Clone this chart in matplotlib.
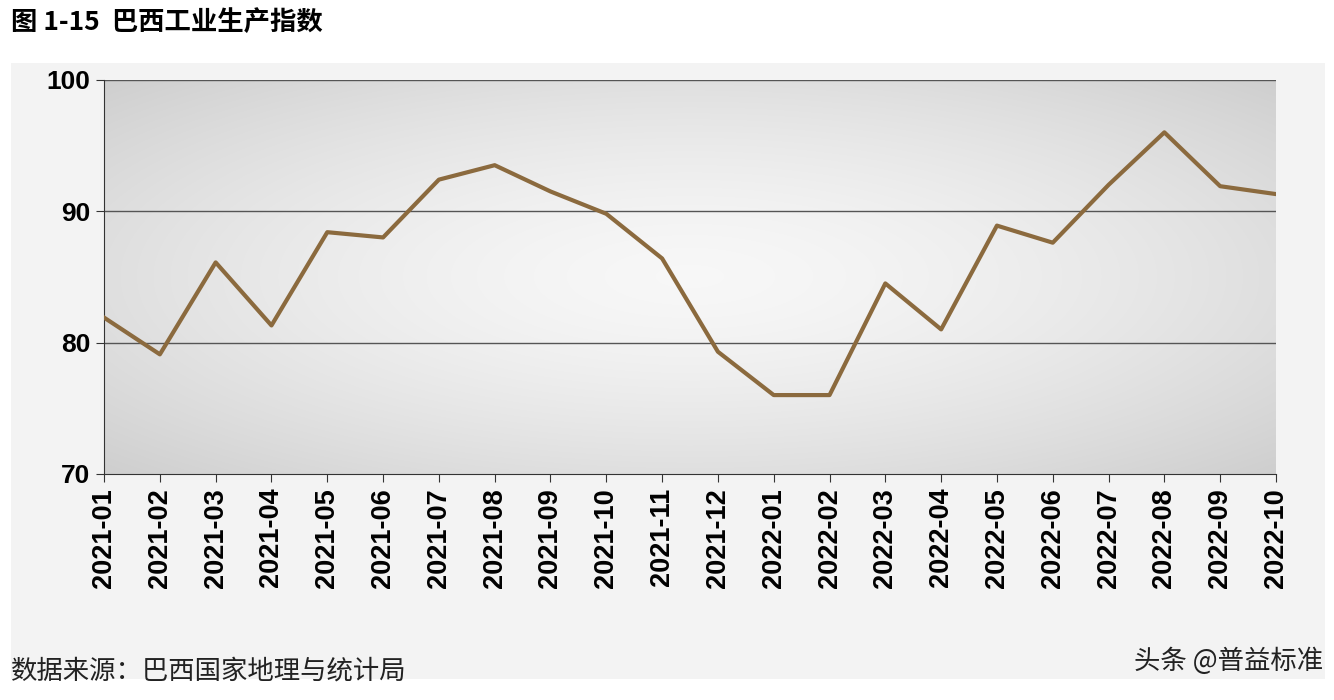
import numpy as np
import matplotlib.pyplot as plt
from matplotlib.patches import Rectangle

plt.rcParams['font.family'] = ['Noto Sans CJK SC', 'DejaVu Sans']

months = ['2021-01','2021-02','2021-03','2021-04','2021-05','2021-06','2021-07','2021-08',
          '2021-09','2021-10','2021-11','2021-12','2022-01','2022-02','2022-03','2022-04',
          '2022-05','2022-06','2022-07','2022-08','2022-09','2022-10']
values = [81.9, 79.1, 86.1, 81.3, 88.4, 88.0, 92.4, 93.5, 91.5, 89.8, 86.4, 79.3,
          76.0, 76.0, 84.5, 81.0, 88.9, 87.6, 92.0, 96.0, 91.9, 91.3]
yticks = [70, 80, 90, 100]

fig = plt.figure(figsize=(13.34, 7.0), dpi=100)
fig.patch.set_facecolor('white')
fig.patches.append(Rectangle((0.008, 0.03), 0.985, 0.88, transform=fig.transFigure,
                             facecolor='#f3f3f3', edgecolor='none', zorder=-10))

ax = fig.add_axes([0.078, 0.323, 0.8785, 0.563])
x = np.arange(len(months))
gx, gy = np.meshgrid(np.linspace(-1, 1, 300), np.linspace(-1, 1, 200))
r = np.sqrt(gx**2 + gy**2) / np.sqrt(2)
shade = 0.97 - 0.16 * r**1.5
ax.imshow(np.dstack([shade]*3), extent=[0, len(months)-1, 70, 100], aspect='auto',
          zorder=0, interpolation='bilinear')
ax.plot(x, values, color='#8b6a3e', lw=3, zorder=3)
ax.set_xlim(0, len(months)-1)
ax.set_ylim(70, 100)
ax.set_yticks(yticks)
ax.set_yticklabels([str(t) for t in yticks], fontsize=19, fontweight='bold', family='Liberation Sans')
for t in [80, 90, 100]:
    ax.axhline(t, color='#555555', lw=1, zorder=2)
ax.set_xticks(x)
ax.set_xticklabels(months, rotation=90, fontsize=19.5, fontweight='bold', family='Liberation Sans')
for s in ['top', 'right']:
    ax.spines[s].set_visible(False)
ax.spines['left'].set_color('#333333')
ax.spines['bottom'].set_color('#333333')
ax.tick_params(axis='both', direction='out', length=6, color='#333333', pad=4)

fig.text(0.008, 0.968, '图 1-15  巴西工业生产指数', fontsize=19, fontweight='bold', va='center', ha='left')
fig.text(0.008, 0.042, '数据来源：巴西国家地理与统计局', fontsize=19, style='italic', va='center', ha='left', color='#222222')
fig.text(0.992, 0.055, '头条 @普益标准', fontsize=19, va='center', ha='right', color='#222222')

fig.savefig('out.png', dpi=100)
